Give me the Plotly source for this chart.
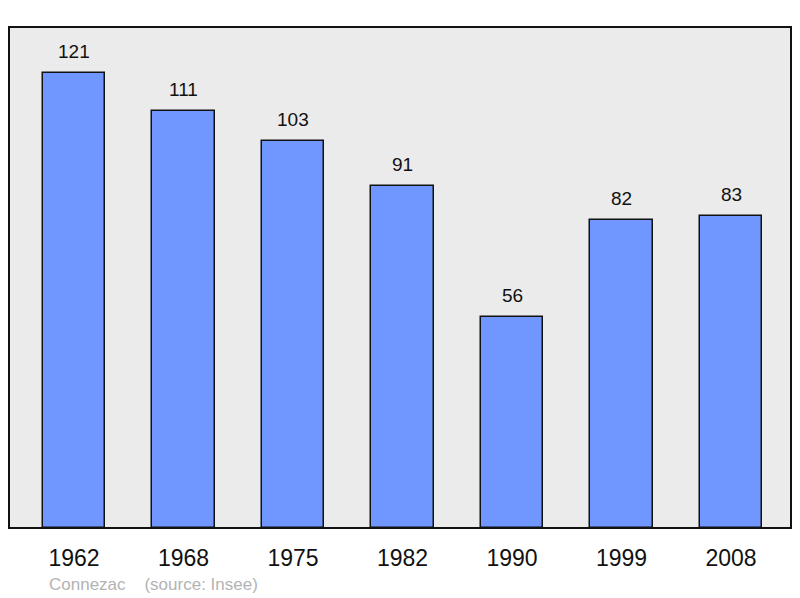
import plotly.graph_objects as go

years = ["1962", "1968", "1975", "1982", "1990", "1999", "2008"]
population = [121, 111, 103, 91, 56, 82, 83]
source_text = "Connezac    (source: Insee)"

xs = list(range(len(years)))
FONT = "Liberation Sans, Arial"

fig = go.Figure()
fig.add_trace(go.Bar(
    x=xs, y=population, width=0.57,
    marker=dict(color="#7097ff", line=dict(color="#111111", width=1.5)),
    hoverinfo="skip",
))

for x, v in zip(xs, population):
    fig.add_annotation(x=x, y=v, text=str(v), showarrow=False,
                       yanchor="bottom", yshift=9,
                       font=dict(family=FONT, size=19, color="#111111"))

fig.add_annotation(xref="paper", yref="paper", x=(47-9)/782, y=-(584-528)/501,
                   text=source_text, showarrow=False, xanchor="left", yanchor="middle",
                   font=dict(family=FONT, size=17, color="#b3b3b3"))

fig.add_shape(type="rect", xref="paper", yref="paper", x0=0, y0=0, x1=1, y1=1,
              line=dict(color="#111111", width=2), layer="above")

fig.update_layout(
    width=800, height=598,
    margin=dict(l=9, r=9, t=27, b=70),
    paper_bgcolor="white", plot_bgcolor="#ebebeb",
    showlegend=False,
    xaxis=dict(range=[-0.594, 6.548], tickvals=xs, ticktext=years,
               showgrid=False, zeroline=False, ticks="outside", ticklen=9,
               tickcolor="rgba(0,0,0,0)",
               tickfont=dict(family=FONT, size=23, color="#111111")),
    yaxis=dict(range=[0, 133.2], showgrid=False, zeroline=False,
               showticklabels=False, ticks=""),
    bargap=0,
)

fig.write_html("out.html", config={"displayModeBar": False},
               post_script="document.body.style.margin='0';")
